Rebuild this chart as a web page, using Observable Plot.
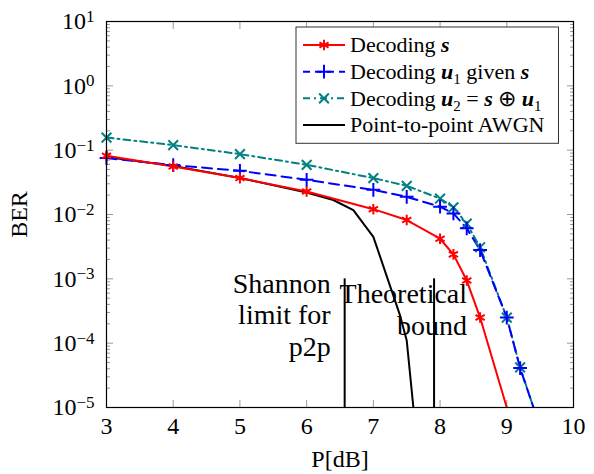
<!DOCTYPE html>
<html><head><meta charset="utf-8">
<script src="https://cdn.jsdelivr.net/npm/d3@7"></script>
<script src="https://cdn.jsdelivr.net/npm/@observablehq/plot@0.6"></script>
<style>body{margin:0;background:#fff} #chart{width:594px;height:474px}</style>
</head><body><div id="chart"></div>
<script>
// ---- data ----
const xTicks = [3, 4, 5, 6, 7, 8, 9, 10];
const yMajor = [1e-5, 1e-4, 1e-3, 1e-2, 1e-1, 1, 10];
const yMinor = [];
for (let k = -5; k < 1; k++) for (let m = 2; m <= 9; m++) yMinor.push(m * 10 ** k);

const pS   = [3, 4, 5, 6, 7, 7.5, 8, 8.2, 8.4, 8.6, 9];
const berS = [0.0817, 0.0557, 0.0368, 0.0228, 0.0121, 0.0082, 0.0042, 0.0024, 0.00094, 0.00025, 0.00001];

const pU1   = [3, 4, 5, 6, 7, 7.5, 8, 8.2, 8.4, 8.6, 9, 9.2, 9.4];
const berU1 = [0.0753, 0.0586, 0.0478, 0.0346, 0.0242, 0.0188, 0.0132, 0.0104, 0.0061, 0.0028, 0.00025, 0.000041, 0.00001];

const pU2   = [3, 4, 5, 6, 7, 7.5, 8, 8.2, 8.4, 8.6, 9, 9.2, 9.4];
const berU2 = [0.157, 0.120, 0.0868, 0.0592, 0.0368, 0.0279, 0.0177, 0.0129, 0.0072, 0.0031, 0.00025, 0.000042, 0.00001];

const pAwgn   = [3, 4, 5, 6, 6.4, 6.7, 7, 7.4, 7.5, 7.6];
const berAwgn = [0.078, 0.057, 0.037, 0.022, 0.0168, 0.0117, 0.0045, 0.00027, 0.00011, 0.00001];

const limitP = [6.57, 7.91];           // Shannon limit for p2p, theoretical bound
const limitTop = 1e-3;
const noteText = ["Shannon\nlimit for\np2p", "Theoretical\nbound"];

const toRows = (xs, ys) => xs.map((x, i) => ({x, y: ys[i]}));
const dS = toRows(pS, berS), dU1 = toRows(pU1, berU1), dU2 = toRows(pU2, berU2), dA = toRows(pAwgn, berAwgn);

const RED = "#ff0000", BLUE = "#0000ff", TEAL = "#008080";
const FONT = "'Liberation Serif', 'Times New Roman', serif";
const tickGray = "#999";

const plot = Plot.plot({
  width: 594, height: 474,
  marginLeft: 106, marginRight: 21, marginTop: 21, marginBottom: 67,
  style: {fontFamily: FONT, fontSize: "24px", background: "white", color: "black"},
  x: {domain: [3, 10]},
  y: {type: "log", domain: [1e-5, 10]},
  marks: [
    Plot.axisX({anchor: "bottom", ticks: xTicks, tickSize: 0, tickPadding: 9, tickFormat: d => String(d), label: "P[dB]", labelAnchor: "center", labelArrow: "none", labelOffset: 59}),
    Plot.axisX({anchor: "bottom", ticks: xTicks, tickSize: -7, fill: "none", stroke: tickGray}),
    Plot.axisX({anchor: "top", ticks: xTicks, tickSize: -7, fill: "none", stroke: tickGray}),
    Plot.axisY({anchor: "left", ticks: yMajor, tickSize: 0, tickPadding: 12, tickFormat: d => "10^" + Math.round(Math.log10(d)), label: "BER", labelAnchor: "center", labelArrow: "none", labelOffset: 97}),
    Plot.axisY({anchor: "left", ticks: yMajor, tickSize: -7, fill: "none", stroke: tickGray}),
    Plot.axisY({anchor: "left", ticks: yMinor, tickSize: -4, fill: "none", stroke: tickGray}),
    Plot.axisY({anchor: "right", ticks: yMajor, tickSize: -7, fill: "none", stroke: tickGray}),
    Plot.axisY({anchor: "right", ticks: yMinor, tickSize: -4, fill: "none", stroke: tickGray}),
    Plot.ruleX(limitP, {x: d => d, y1: 1e-5, y2: limitTop, stroke: "black", strokeWidth: 2}),
    Plot.text([limitP[0]], {x: d => d, y: 10 ** -3.5, text: () => noteText[0], textAnchor: "end", lineAnchor: "middle", lineHeight: 1.13, fontSize: 28, dx: -14, dy: 3, fill: "black"}),
    Plot.text([limitP[1]], {x: d => d, y: 10 ** -3.5, text: () => noteText[1], textAnchor: "end", lineAnchor: "middle", lineHeight: 1.13, fontSize: 28, dx: 33, dy: -2, fill: "black"}),
    Plot.line(dA, {x: "x", y: "y", stroke: "black", strokeWidth: 2, clip: true}),
    Plot.line(dU2, {x: "x", y: "y", stroke: TEAL, strokeWidth: 2, strokeDasharray: "7,4,2,4", clip: true}),
    Plot.line(dU1, {x: "x", y: "y", stroke: BLUE, strokeWidth: 2, strokeDasharray: "10,6", clip: true}),
    Plot.line(dS, {x: "x", y: "y", stroke: RED, strokeWidth: 2, clip: true}),
    Plot.dot(dU2.filter(d => d.y > 1e-5), {x: "x", y: "y", symbol: "times", r: 4.5, stroke: TEAL, strokeWidth: 2}),
    Plot.dot(dU1.filter(d => d.y > 1e-5), {x: "x", y: "y", symbol: "plus", r: 4.5, stroke: BLUE, strokeWidth: 2}),
    Plot.dot(dS.filter(d => d.y > 1e-5), {x: "x", y: "y", symbol: "asterisk", r: 5, stroke: RED, strokeWidth: 2}),
    Plot.frame({stroke: "black", strokeWidth: 1.2})
  ]
});

document.getElementById("chart").appendChild(plot);
const svg = d3.select(plot);

// superscripts on y tick labels
svg.selectAll('g[aria-label="y-axis tick label"] text').each(function () {
  const t = this.textContent;
  if (!t.startsWith("10^")) return;
  const e = t.slice(3).replace("-", "\u2212");
  const sel = d3.select(this);
  sel.text("10");
  sel.append("tspan").attr("dy", "-0.42em").attr("font-size", "17px").text(e);
});

// legend
const rows = [
  {color: RED, dash: null, sym: d3.symbolAsterisk, r: 5, parts: [["Decoding ", ""], ["s", "bi"]]},
  {color: BLUE, dash: "7,5", sym: d3.symbolPlus, r: 4.5, parts: [["Decoding ", ""], ["u", "bi"], ["1", "sub"], [" given ", ""], ["s", "bi"]]},
  {color: TEAL, dash: "7,4,2,4", sym: d3.symbolTimes, r: 4.5, parts: [["Decoding ", ""], ["u", "bi"], ["2", "sub"], [" = ", ""], ["s", "bi"], [" \u2295 ", ""], ["u", "bi"], ["1", "sub"]]},
  {color: "black", dash: null, sym: null, parts: [["Point-to-point AWGN", ""]]}
];
const lg = svg.append("g").attr("font-family", FONT).attr("font-size", 22).attr("text-anchor", "start");
lg.append("rect").attr("x", 296).attr("y", 27).attr("width", 262.5).attr("height", 116.3)
  .attr("fill", "white").attr("stroke", "#333").attr("stroke-width", 1);
const rowY = [45, 71.7, 98.3, 125];
rows.forEach((r, i) => {
  const y = rowY[i];
  lg.append("line").attr("x1", 303).attr("x2", 345).attr("y1", y).attr("y2", y)
    .attr("stroke", r.color).attr("stroke-width", 2).attr("stroke-dasharray", r.dash);
  if (r.sym) lg.append("path").attr("transform", `translate(324,${y})`)
    .attr("d", d3.symbol(r.sym, Math.PI * r.r * r.r)()).attr("fill", "none")
    .attr("stroke", r.color).attr("stroke-width", 2);
  const tx = lg.append("text").attr("x", 350).attr("y", y).attr("dy", "0.33em").attr("fill", "black").attr("text-anchor", "start");
  let shifted = 0;
  r.parts.forEach(([s, st]) => {
    const sp = tx.append("tspan").text(s);
    let want = st === "sub" ? 5 : 0;
    if (want !== shifted) { sp.attr("dy", want - shifted); shifted = want; }
    if (st === "bi") sp.attr("font-weight", "bold").attr("font-style", "italic");
    if (st === "sub") sp.attr("font-size", 15);
  });
});
</script></body></html>
